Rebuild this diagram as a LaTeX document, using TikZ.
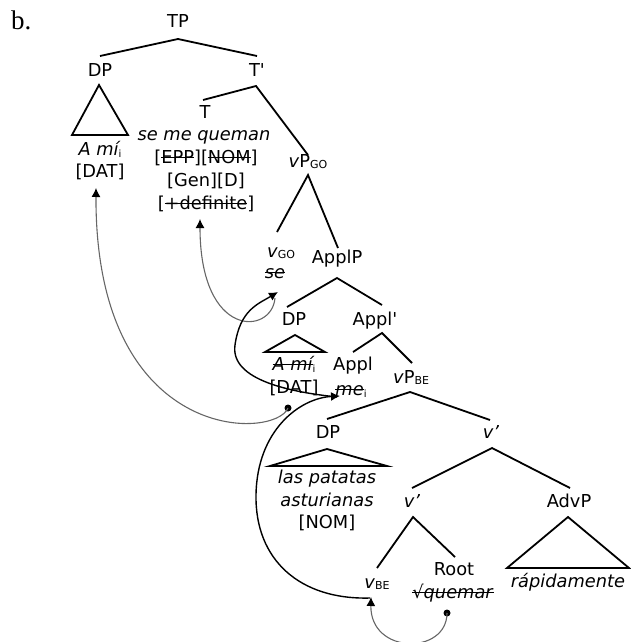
\documentclass[tikz,border=0pt]{standalone}
\usepackage{fontspec}
\setmainfont{DejaVu Sans}
\newfontfamily\serifb{Liberation Serif}
\usetikzlibrary{arrows.meta}
\newcommand{\strk}[1]{\setbox0=\hbox{#1}\rlap{\rule[0.27em]{\wd0}{0.08em}}\box0}
\newcommand{\sbs}[1]{\raisebox{-1.2pt}{\fontsize{11}{11}\selectfont #1}}
\newcommand{\sbi}{\raisebox{-2.5pt}{\fontsize{10}{10}\selectfont\upshape i}}
\begin{document}
\begin{tikzpicture}[x=1pt,y=-1pt,
  lbl/.style={inner sep=0pt, anchor=base, font=\fontsize{17.8}{21}\selectfont},
  br/.style={line width=1.8pt},
  tri/.style={line width=1.8pt, line join=miter},
  bmove/.style={line width=1.4pt, -{Latex[length=9pt,width=9pt]}},
  gmove/.style={line width=1.1pt, draw=black!60, -{Latex[length=9pt,width=9pt,color=black]}},
  dotc/.style={circle, fill=black, inner sep=0pt, minimum size=7pt}]
\useasboundingbox (0,0) rectangle (631,642);

\node[inner sep=0pt, anchor=base west, font=\serifb\fontsize{27}{30}\selectfont] (lab) at (11,30) {b.};

% labels
\node[lbl] (TP) at (178,28) {TP};
\node[lbl] (DP1) at (100,76) {DP};
\node[lbl] (Tbar) at (257,76) {T\textquotesingle};
\node[lbl] (ami1) at (100,155) {\itshape A mí\sbi};
\node[lbl] (dat1) at (100,177) {[DAT]};
\node[lbl] (T) at (205,118) {T};
\node[lbl] (sm) at (204,140) {\itshape se me queman};
\node[lbl] (epp) at (206,163) {[\strk{EPP}][\strk{NOM}]};
\node[lbl] (gen) at (206,186) {[Gen][D]};
\node[lbl] (def) at (206,209) {[\strk{+definite}]};
\node[lbl] (vpgo) at (308,167) {\textit{v}P\sbs{GO}};
\node[lbl] (vgo) at (281,257) {\textit{v}\sbs{GO}};
\node[lbl] (se) at (275,278) {\strk{\itshape se}};
\node[lbl] (applp) at (337,263) {ApplP};
\node[lbl] (DP2) at (294,325) {DP};
\node[lbl] (applbar) at (375,325) {Appl\textquotesingle};
\node[lbl] (ami2) at (294,370) {\strk{\itshape A mí}\sbi};
\node[lbl] (dat2) at (294,393) {[DAT]};
\node[lbl] (appl) at (353,370) {Appl};
\node[lbl] (me) at (351,395) {\strk{\itshape me}\sbi};
\node[lbl] (vpbe) at (411,383) {\textit{v}P\sbs{BE}};
\node[lbl] (DP3) at (328,438) {DP};
\node[lbl] (vbar1) at (491,438) {\textit{v'}};
\node[lbl] (las) at (327,483) {\itshape las patatas};
\node[lbl] (ast) at (327,506) {\itshape asturianas};
\node[lbl] (nom) at (327,528) {[NOM]};
\node[lbl] (vbar2) at (412,507) {\textit{v'}};
\node[lbl] (advp) at (569,507) {AdvP};
\node[lbl] (vbe) at (377,588) {\textit{v}\sbs{BE}};
\node[lbl] (root) at (454,575) {Root};
\node[lbl] (quemar) at (453,598) {\strk{√\textit{quemar}}};
\node[lbl] (rap) at (568,587) {\itshape rápidamente};

% branches
\draw[br] (100,56) -- (178,39) -- (257,56);
\draw[br] (203,100) -- (256,86) -- (308,155);
\draw[br] (277,232) -- (308,175) -- (338,248);
\draw[br] (287,307) -- (337,278) -- (382,305);
\draw[br] (353,352) -- (382,333) -- (412,363);
\draw[br] (327,419) -- (410,392) -- (490,420);
\draw[br] (412,488) -- (492,448) -- (570,488);
\draw[br] (377,568) -- (413,517) -- (455,557);

% triangles
\draw[tri] (99,85) -- (72,135) -- (128,135) -- cycle;
\draw[tri] (295,335) -- (265,352) -- (325,352) -- cycle;
\draw[tri] (327,449) -- (270,466) -- (387,466) -- cycle;
\draw[tri] (568,517) -- (507,568) -- (629,568) -- cycle;

% movement arrows
\node[dotc] (d1) at (288,408) {};
\node[dotc] (d3) at (447,613) {};
\coordinate (g1end) at (96,188);
\coordinate (g2start) at (275,298);
\coordinate (g2end) at (200,219);
\coordinate (g3end) at (371,597);
\coordinate (b1start) at (370,598);
\coordinate (b1end) at (340,396);
\coordinate (b2start) at (337,397);
\coordinate (b2end) at (278,292);

\draw[gmove] (d1.center) .. controls (275,440) and (95,445) .. (g1end);
\draw[gmove] (g2start) .. controls (272,335) and (200,340) .. (g2end);
\draw[gmove] (d3.center) .. controls (447,655) and (370,655) .. (g3end);
\draw[bmove] (b1start) .. controls (300,600) and (255,560) .. (256,495) .. controls (257,430) and (300,398) .. (b1end);
\draw[bmove] (b2start) .. controls (290,392) and (230,380) .. (235,345) .. controls (240,310) and (258,304) .. (b2end);
\end{tikzpicture}
\end{document}
